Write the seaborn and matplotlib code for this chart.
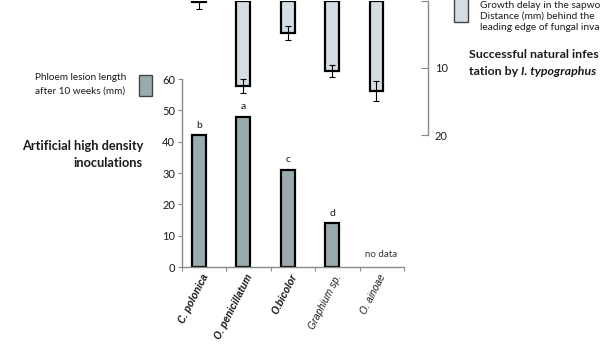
import matplotlib
matplotlib.use("Agg")
import matplotlib.pyplot as plt
import seaborn as sns
import numpy as np
import pandas as pd
from matplotlib.patches import Rectangle

# ---- data ----
categories = ["C. polonica", "O. penicillatum", "O.bicolor", "Graphium sp.", "O. ainoae"]
lesion_len = [42, 48, 31, 14, np.nan]          # phloem lesion length after 10 weeks (mm)
lesion_letters = ["b", "a", "c", "d", ""]
delay_dist = [0.2, 12.7, 4.8, 10.4, 13.4]      # sapwood growth delay distance (mm)
delay_err = [1.0, 1.1, 1.0, 0.9, 1.5]
label_bold = [True, True, True, False, False]
bottom_yticks = [0, 10, 20, 30, 40, 50, 60]
top_yticks = [0, 10, 20]
top_yticklabels = ["", "10", "20"]

sns.set_theme(style="white")
plt.rcParams["font.family"] = ["Lato", "DejaVu Sans"]

W, H = 600, 358
fig = plt.figure(figsize=(6, 3.58), dpi=100)

def fx(px):
    return px / W

def fy(py):
    return 1 - py / H

DARK_BAR = "#9aabb0"
LIGHT_BAR = "#d4dee2"
AXC = "#8a8a8a"
TXT = "#1a1a1a"

# ---- bottom axes: phloem lesion length ----
axb = fig.add_axes([fx(182), fy(267), fx(404) - fx(182), fy(79) - fy(267)])
dfb = pd.DataFrame({"cat": categories, "val": lesion_len})
sns.barplot(data=dfb, x="cat", y="val", order=categories, ax=axb, color=DARK_BAR,
            saturation=1, width=0.31, edgecolor="black", linewidth=1.6)
axb.set_xlim(-0.38, 4.62)
axb.set_ylim(0, 60)
axb.set_yticks(bottom_yticks)
axb.set_yticklabels([str(t) for t in bottom_yticks], fontsize=8, color=TXT)
axb.tick_params(axis="y", direction="out", length=3, width=0.8, color=AXC, pad=2, left=True)
axb.set_xticks([i + 0.06 for i in range(len(categories))])
axb.set_xticklabels(categories)
axb.set_xticks([-0.38 + k for k in range(len(categories) + 1)], minor=True)
axb.tick_params(axis="x", which="major", length=0, pad=4)
axb.tick_params(axis="x", which="minor", direction="out", length=3, width=0.8, color=AXC, bottom=True)
for lab, b in zip(axb.get_xticklabels(), label_bold):
    lab.set_rotation(63)
    lab.set_ha("right")
    lab.set_va("top")
    lab.set_rotation_mode("anchor")
    lab.set_fontsize(7.2)
    lab.set_family(["Liberation Sans", "DejaVu Sans"])
    lab.set_style("italic")
    lab.set_fontweight("bold" if b else "normal")
    lab.set_color(TXT)
axb.set_xlabel("")
axb.set_ylabel("")
for s in ["top", "right"]:
    axb.spines[s].set_visible(False)
for s in ["left", "bottom"]:
    axb.spines[s].set_color(AXC)
    axb.spines[s].set_linewidth(1.0)
for i, (v, l) in enumerate(zip(lesion_len, lesion_letters)):
    if l and not np.isnan(v):
        axb.annotate(l, (i, v), xytext=(0, 4), textcoords="offset points",
                     ha="center", va="bottom", fontsize=7.5, color=TXT)
axb.text(4.1, 4, "no data", ha="center", va="center", fontsize=7, color="#333333")
axb.patch.set_alpha(0)

# ---- top axes: growth delay (inverted) ----
axt = fig.add_axes([fx(182), fy(135), fx(428) - fx(182), fy(1) - fy(135)])
dft = pd.DataFrame({"cat": categories, "val": delay_dist})
sns.barplot(data=dft, x="cat", y="val", order=categories, ax=axt, color=LIGHT_BAR,
            saturation=1, width=0.31, edgecolor="black", linewidth=1.6)
axt.errorbar(np.arange(len(categories)), delay_dist, yerr=delay_err, fmt="none",
             ecolor="black", elinewidth=0.8, capsize=2.3, capthick=0.8, zorder=5)
axt.set_xlim(-0.38, -0.38 + (428 - 182) / 44.4)
axt.set_ylim(20, 0)
axt.set_yticks(top_yticks)
axt.set_yticklabels(top_yticklabels, fontsize=8, color=TXT)
axt.yaxis.tick_right()
axt.tick_params(axis="y", direction="in", length=5, width=0.8, color=AXC, pad=5, right=True, left=False)
axt.set_xticks([])
axt.set_xlabel("")
axt.set_ylabel("")
for s in ["top", "left", "bottom"]:
    axt.spines[s].set_visible(False)
axt.spines["right"].set_color(AXC)
axt.spines["right"].set_linewidth(1.0)
axt.patch.set_alpha(0)

# ---- legend swatches & texts ----
fig.patches.append(Rectangle((fx(139), fy(96)), fx(152) - fx(139), fy(75) - fy(96),
                             transform=fig.transFigure, facecolor=DARK_BAR,
                             edgecolor="#444444", linewidth=1.0))
fig.patches.append(Rectangle((fx(454), fy(22)), fx(468) - fx(454), fy(-10) - fy(22),
                             transform=fig.transFigure, facecolor=LIGHT_BAR,
                             edgecolor="#444444", linewidth=1.0))

fig.text(fx(35), fy(78), "Phloem lesion length", fontsize=7.2, color=TXT, va="center", ha="left")
fig.text(fx(35), fy(91), "after 10 weeks (mm)", fontsize=7.2, color=TXT, va="center", ha="left")

fig.text(fx(480), fy(5), "Growth delay in the sapwo", fontsize=7.3, color=TXT, va="center", ha="left")
fig.text(fx(480), fy(16), "Distance (mm) behind the", fontsize=7.3, color=TXT, va="center", ha="left")
fig.text(fx(480), fy(27), "leading edge of fungal inva", fontsize=7.3, color=TXT, va="center", ha="left")

fig.text(fx(143), fy(146), "Artificial high density", fontsize=9.2, fontweight="bold",
         color=TXT, va="center", ha="right")
fig.text(fx(143), fy(163), "inoculations", fontsize=9.2, fontweight="bold",
         color=TXT, va="center", ha="right")

fig.text(fx(469), fy(55), "Successful natural infes", fontsize=8.9, fontweight="bold",
         color=TXT, va="center", ha="left")
t2 = fig.text(fx(469), fy(75), "tation by ", fontsize=8.9, fontweight="bold",
              color=TXT, va="baseline", ha="left")
plt.annotate("I. typographus", xy=(1, 0), xycoords=t2, xytext=(0, 0), textcoords="offset points",
             ha="left", va="bottom", fontsize=8.9, fontweight="bold", fontstyle="italic",
             color=TXT, annotation_clip=False)

fig.savefig("out.png", dpi=100)
